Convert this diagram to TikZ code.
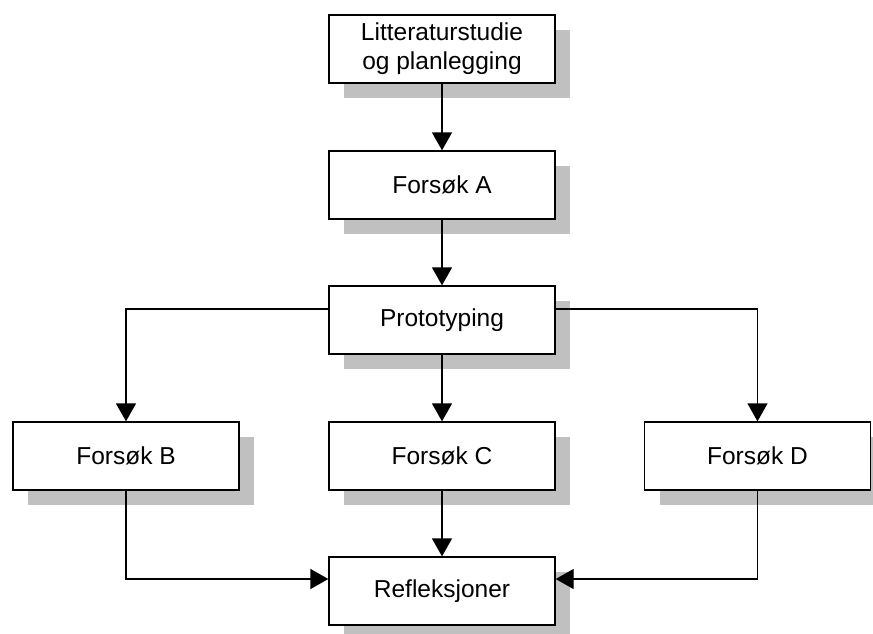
\documentclass[tikz,border=0pt]{standalone}
\usepackage{fontspec}
\setmainfont{Liberation Sans}
\usetikzlibrary{arrows.meta,shadows,calc}
\definecolor{shadowgray}{RGB}{192,192,192}
\begin{document}
\begin{tikzpicture}[x=1pt,y=-1pt,
  box/.style={draw, line width=1.3pt, fill=white, minimum width=226pt, minimum height=68pt,
    inner sep=0pt, align=center, font=\fontsize{24.5}{29}\selectfont,
    drop shadow={shadow xshift=15pt, shadow yshift=-15pt, fill=shadowgray, opacity=1, draw=none}},
  conn/.style={line width=1.3pt, -{Triangle[width=20pt,length=18pt]}}]
\useasboundingbox (0,0) rectangle (873,633);
\node[box] (lit) at (442,49) {Litteraturstudie\\og planlegging};
\node[box] (fa) at (442,185) {Forsøk A};
\node[box] (proto) at (442,320) {Prototyping};
\node[box] (fb) at (126,456) {Forsøk B};
\node[box] (fc) at (442,456) {Forsøk C};
\node[box] (fd) at (757.5,456) {Forsøk D};
\node[box] (refl) at (442,591) {Refleksjoner};
\draw[conn] (lit.south) -- (fa.north);
\draw[conn] (fa.south) -- (proto.north);
\draw[conn] ([yshift=11pt]proto.west) -| (fb.north);
\draw[conn] ([yshift=11pt]proto.east) -| (fd.north);
\draw[conn] (proto.south) -- (fc.north);
\draw[conn] (fc.south) -- (refl.north);
\draw[conn] (fb.south) |- ([yshift=12pt]refl.west);
\draw[conn] (fd.south) |- ([yshift=12pt]refl.east);
\end{tikzpicture}
\end{document}
